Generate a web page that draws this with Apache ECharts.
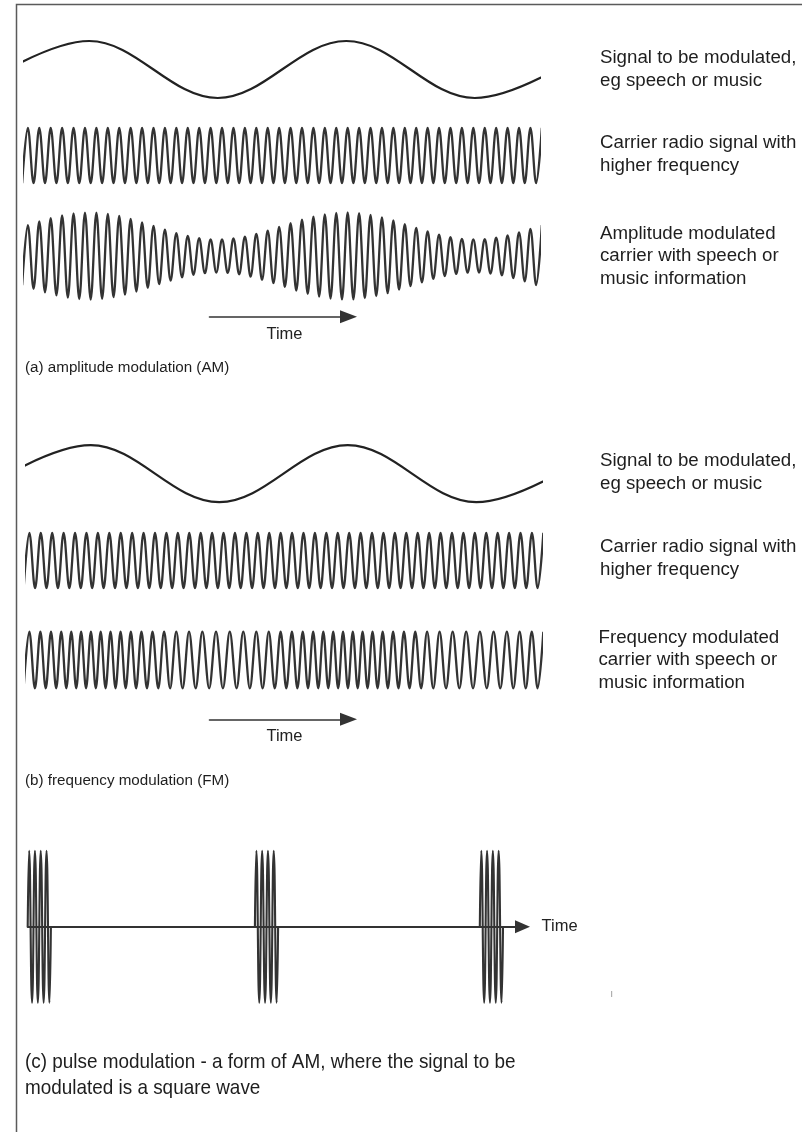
<!DOCTYPE html>
<html><head><meta charset="utf-8">
<script src="https://cdn.jsdelivr.net/npm/echarts@6/dist/echarts.min.js"></script>
<style>html,body{margin:0;padding:0;background:#fff}#c{width:802px;height:1132px}</style>
</head><body><div id="c"></div>
<script>
// Time axis for (a)/(b): quarter-periods of the carrier (0..180). Values: amplitude units.
const signalTimes = [-22.5, 22.5, 67.5, 112.5, 157.5, 202.5];
const signalValues = [-28.5, 28.5, -28.5, 28.5, -28.5, 28.5];

const carrierTimes = [-1,1,3,5,7,9,11,13,15,17,19,21,23,25,27,29,31,33,35,37,39,41,43,45,47,49,51,53,55,57,59,61,63,65,67,69,71,73,75,77,79,81,83,85,87,89,91,93,95,97,99,101,103,105,107,109,111,113,115,117,119,121,123,125,127,129,131,133,135,137,139,141,143,145,147,149,151,153,155,157,159,161,163,165,167,169,171,173,175,177,179,181];
const carrierValues = [-27.7,27.7,-27.7,27.7,-27.7,27.7,-27.7,27.7,-27.7,27.7,-27.7,27.7,-27.7,27.7,-27.7,27.7,-27.7,27.7,-27.7,27.7,-27.7,27.7,-27.7,27.7,-27.7,27.7,-27.7,27.7,-27.7,27.7,-27.7,27.7,-27.7,27.7,-27.7,27.7,-27.7,27.7,-27.7,27.7,-27.7,27.7,-27.7,27.7,-27.7,27.7,-27.7,27.7,-27.7,27.7,-27.7,27.7,-27.7,27.7,-27.7,27.7,-27.7,27.7,-27.7,27.7,-27.7,27.7,-27.7,27.7,-27.7,27.7,-27.7,27.7,-27.7,27.7,-27.7,27.7,-27.7,27.7,-27.7,27.7,-27.7,27.7,-27.7,27.7,-27.7,27.7,-27.7,27.7,-27.7,27.7,-27.7,27.7,-27.7,27.7,-27.7,27.7];

const amValues = [-29.1,
 30.9,-32.8,34.6,-36.3,37.9,-39.4,40.6,-41.7,42.5,-43.1,43.4,-43.5,43.3,-42.8,42.1,-41.2,40.0,-38.7,37.2,-35.5,33.7,-31.9,30.0,-28.1,26.3,-24.5,22.9,-21.3,20.0,-18.8,17.9,-17.2,16.7,-16.5,16.6,-16.9,17.5,-18.3,19.4,-20.6,22.1,-23.7,25.4,-27.2,29.1,
 -30.9,32.8,-34.6,36.3,-37.9,39.4,-40.6,41.7,-42.5,43.1,-43.4,43.5,-43.3,42.8,-42.1,41.2,-40.0,38.7,-37.2,35.5,-33.7,31.9,-30.0,28.1,-26.3,24.5,-22.9,21.3,-20.0,18.8,-17.9,17.2,-16.7,16.5,-16.6,16.9,-17.5,18.3,-19.4,20.6,-22.1,23.7,-25.4,27.2,-29.1,
 30.9];

const fmTimes = [-1.01,
 0.99,2.95,4.86,6.74,8.58,10.39,12.17,13.94,15.68,17.41,19.13,20.85,22.56,24.27,25.98,27.70,29.43,31.18,32.94,34.73,36.54,38.38,40.26,42.18,44.13,46.14,48.19,50.29,52.45,54.66,56.92,59.24,61.59,63.97,66.37,68.78,71.18,73.57,75.92,78.22,80.48,82.69,84.84,86.94,88.99,
 90.99,92.95,94.86,96.74,98.58,100.39,102.17,103.94,105.68,107.41,109.13,110.85,112.56,114.27,115.98,117.70,119.43,121.18,122.94,124.73,126.54,128.38,130.26,132.18,134.13,136.14,138.19,140.29,142.45,144.66,146.92,149.24,151.59,153.97,156.37,158.78,161.18,163.57,165.92,168.22,170.48,172.69,174.84,176.94,178.99,
 180.99];
const fmValues = [-28.3,28.3,-28.3,28.3,-28.3,28.3,-28.3,28.3,-28.3,28.3,-28.3,28.3,-28.3,28.3,-28.3,28.3,-28.3,28.3,-28.3,28.3,-28.3,28.3,-28.3,28.3,-28.3,28.3,-28.3,28.3,-28.3,28.3,-28.3,28.3,-28.3,28.3,-28.3,28.3,-28.3,28.3,-28.3,28.3,-28.3,28.3,-28.3,28.3,-28.3,28.3,-28.3,28.3,-28.3,28.3,-28.3,28.3,-28.3,28.3,-28.3,28.3,-28.3,28.3,-28.3,28.3,-28.3,28.3,-28.3,28.3,-28.3,28.3,-28.3,28.3,-28.3,28.3,-28.3,28.3,-28.3,28.3,-28.3,28.3,-28.3,28.3,-28.3,28.3,-28.3,28.3,-28.3,28.3,-28.3,28.3,-28.3,28.3,-28.3,28.3,-28.3,28.3];

// Pulse modulation (c): time axis 0..495
const pulseTimes1 = [0, 1.45, 4.35, 7.25, 10.15, 13.05, 15.95, 18.85, 21.75, 23.2];
const pulseTimes2 = [227.3, 228.75, 231.65, 234.55, 237.45, 240.35, 243.25, 246.15, 249.05, 250.5];
const pulseTimes3 = [452.3, 453.75, 456.65, 459.55, 462.45, 465.35, 468.25, 471.15, 474.05, 475.5];
const pulseValues = [0, 76, -76, 76, -76, 76, -76, 76, -76, 0];

const rightLabels = [
  'Signal to be modulated,\neg speech or music',
  'Carrier radio signal with\nhigher frequency',
  'Amplitude modulated\ncarrier with speech or\nmusic information',
  'Signal to be modulated,\neg speech or music',
  'Carrier radio signal with\nhigher frequency',
  'Frequency modulated\ncarrier with speech or\nmusic information'
];
const captions = [
  '(a) amplitude modulation (AM)',
  '(b) frequency modulation (FM)',
  '(c) pulse modulation - a form of AM, where the signal to be\nmodulated is a square wave'
];
const timeLabel = 'Time';

const FONT = "'Liberation Sans', Arial, Helvetica, sans-serif";
const pairs = (xs, ys) => xs.map((x, i) => [x, ys[i]]);

const chart = echarts.init(document.getElementById('c'), null, {renderer: 'canvas'});

const rowGrids = [
  {left: 25, top: 19.5}, {left: 25, top: 105.5}, {left: 25, top: 206},
  {left: 26.5, top: 423.7}, {left: 26.5, top: 510.5}, {left: 26.5, top: 610}
];
const grid = rowGrids.map(g => ({left: g.left, top: g.top, width: 514, height: 100}));
grid.push({left: 27.7, top: 826.7, width: 494.8, height: 200});   // 6 pulse
grid.push({left: 209.5, top: 306.7, width: 139, height: 10});     // 7 arrow a
grid.push({left: 209.5, top: 709.3, width: 139, height: 10});     // 8 arrow b

const xAxis = [], yAxis = [];
for (let i = 0; i < 6; i++) {
  xAxis.push({gridIndex: i, type: 'value', min: 0, max: 180, show: false});
  yAxis.push({gridIndex: i, type: 'value', min: -50, max: 50, show: false});
}
xAxis.push({
  gridIndex: 6, type: 'value', min: 0, max: 495, show: true,
  axisLine: {show: true, onZero: true, symbol: ['none', 'triangle'], symbolSize: [13, 15],
    lineStyle: {color: '#333', width: 2}},
  axisTick: {show: false}, axisLabel: {show: false}, splitLine: {show: false},
  name: timeLabel, nameLocation: 'end', nameGap: 19,
  nameTextStyle: {fontSize: 16.5, color: '#222', fontFamily: FONT}
});
yAxis.push({gridIndex: 6, type: 'value', min: -100, max: 100, show: false});
[7, 8].forEach(gi => {
  xAxis.push({
    gridIndex: gi, type: 'value', min: 0, max: 1, position: 'bottom', show: true,
    axisLine: {show: true, onZero: false, symbol: ['none', 'triangle'], symbolSize: [13, 17],
      lineStyle: {color: '#333', width: 1.6}},
    axisTick: {show: false}, axisLabel: {show: false}, splitLine: {show: false},
    name: timeLabel, nameLocation: 'middle', nameGap: 9,
    nameTextStyle: {fontSize: 16.5, color: '#222', fontFamily: FONT, padding: [0, 0, 0, 11]}
  });
  yAxis.push({gridIndex: gi, type: 'value', min: 0, max: 1, show: false});
});

const mk = (idx, data, color, width, smooth) => ({
  type: 'line', xAxisIndex: idx, yAxisIndex: idx, data: data,
  showSymbol: false, symbol: 'none', smooth: smooth, clip: true, silent: true,
  lineStyle: {color: color, width: width}, animation: false
});

const series = [
  mk(0, pairs(signalTimes, signalValues), '#222222', 2.2, 0.363),
  mk(1, pairs(carrierTimes, carrierValues), '#333333', 2.3, 0.363),
  mk(2, pairs(carrierTimes, amValues), '#333333', 2.3, 0.363),
  mk(3, pairs(signalTimes, signalValues), '#222222', 2.2, 0.363),
  mk(4, pairs(carrierTimes, carrierValues), '#333333', 2.3, 0.363),
  mk(5, pairs(fmTimes, fmValues), '#333333', 2.3, 0.363),
  mk(6, pairs(pulseTimes1, pulseValues), '#333333', 2.1, 0.5),
  mk(6, pairs(pulseTimes2, pulseValues), '#333333', 2.1, 0.5),
  mk(6, pairs(pulseTimes3, pulseValues), '#333333', 2.1, 0.5)
];

const labelCenters = [69.2, 154.2, 256.1, 472.5, 558.3, 660];
const graphic = [
  {type: 'polyline', silent: true, shape: {points: [[16.5, 1132], [16.5, 4.5], [802, 4.5]]},
   style: {stroke: '#5a5a5a', lineWidth: 1.5, fill: 'none'}},
  {type: 'rect', silent: true, shape: {x: 611, y: 991, width: 1.2, height: 6}, style: {fill: '#b0b0b0'}}
];
rightLabels.forEach((t, i) => {
  graphic.push({type: 'text', silent: true, x: i === 5 ? 598.5 : 600, y: labelCenters[i],
    style: {text: t, fill: '#1e1e1e', fontSize: 18.7, fontFamily: FONT, lineHeight: 22.5,
      align: 'left', verticalAlign: 'middle'}});
});
graphic.push({type: 'text', silent: true, x: 25, y: 368,
  style: {text: captions[0], fill: '#1e1e1e', fontSize: 15.2, fontFamily: FONT, align: 'left', verticalAlign: 'middle'}});
graphic.push({type: 'text', silent: true, x: 25, y: 781,
  style: {text: captions[1], fill: '#1e1e1e', fontSize: 15.2, fontFamily: FONT, align: 'left', verticalAlign: 'middle'}});
graphic.push({type: 'text', silent: true, x: 25, y: 1075, scaleX: 0.9,
  style: {text: captions[2], fill: '#1e1e1e', fontSize: 21, fontFamily: FONT, lineHeight: 26,
    align: 'left', verticalAlign: 'middle'}});

chart.setOption({
  backgroundColor: '#ffffff',
  animation: false,
  grid: grid, xAxis: xAxis, yAxis: yAxis, series: series, graphic: graphic
});
</script></body></html>
